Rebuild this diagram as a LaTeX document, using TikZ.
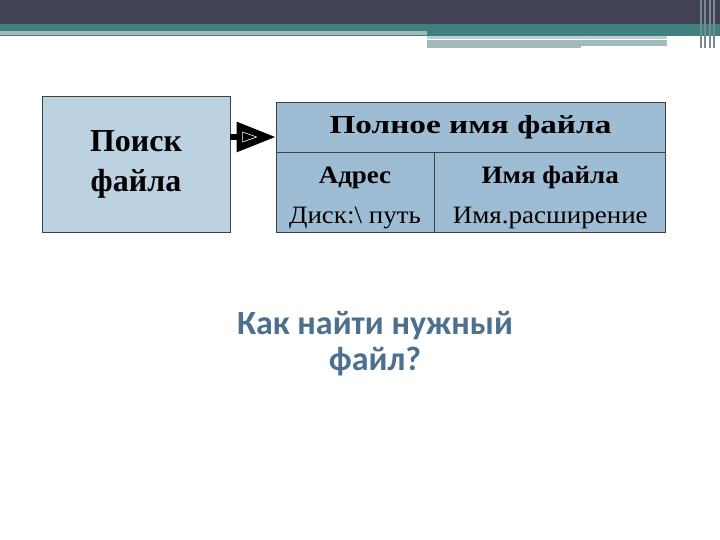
\documentclass[tikz,border=0pt]{standalone}
\usepackage{fontspec}
\setmainfont{Liberation Serif}
\newfontfamily\cellfont[FakeStretch=1.08]{Liberation Serif}
\newfontfamily\headfont[FakeStretch=1.28]{Liberation Serif}
\newfontfamily\qfont{Carlito}
\usetikzlibrary{positioning,arrows.meta,calc}
\definecolor{topdark}{RGB}{65,66,85}
\definecolor{topteal}{RGB}{64,128,128}
\definecolor{toplight}{RGB}{160,186,190}
\definecolor{boxlight}{RGB}{189,210,224}
\definecolor{boxblue}{RGB}{158,189,212}
\definecolor{qblue}{RGB}{76,112,142}
\newcommand{\cellstrut}{\rule{0pt}{26pt}}
\tikzset{box/.style={draw=black!75,line width=0.8pt,inner sep=0pt}}
\tikzset{cell/.style={box,fill=boxblue,align=center,font=\cellfont\fontsize{25}{40}\selectfont}}
\tikzset{conn/.style={line width=6pt,-{Triangle[length=39pt,width=29pt]}}}

\begin{document}
\begin{tikzpicture}[x=1pt,y=-1pt]
  \useasboundingbox[fill=white] (0,0) rectangle (720,540);
  % title bar
  \fill[topdark] (0,0) rectangle (720,24);
  \fill[topteal] (0,24) rectangle (720,36);
  \fill[toplight] (0,31) rectangle (427,35);
  \fill[toplight!70!white] (427,36) rectangle (667,39);
  \fill[toplight] (427,40) rectangle (667,48);
  \fill[white] (581,46) rectangle (707,49);
  \foreach \i in {700,704,709,713}
    \fill[toplight!60!topdark] (\i,0) rectangle (\i+1.5,48);

  % left box
  \node[box,fill=boxlight,minimum width=188pt,minimum height=136pt,
        align=center,font=\bfseries\fontsize{32}{40}\selectfont]
        (search) at (136,164) {Поиск\\файла};

  % table
  \node[cell,minimum width=389pt,minimum height=50pt,font=\headfont\bfseries\fontsize{26}{30}\selectfont]
        (full) at (470.5,127) {Полное имя файла};
  \node[cell,minimum width=158pt,minimum height=80pt,anchor=north west]
        (addr) at (full.south west) {\cellstrut\textbf{Адрес}\\Диск:\textbackslash\ путь};
  \node[cell,minimum width=231pt,minimum height=80pt,anchor=north west]
        (fname) at (addr.north east) {\cellstrut\textbf{Имя файла}\\Имя.расширение};

  % arrow
  \coordinate (tip) at (full.west |- 0,137);
  \draw[conn] (search.east |- tip) -- (tip);
  \draw[white,line width=0.6pt] ($(tip)+(-33,-5)$) -- ++(14,5) -- ++(-14,5) -- cycle;

  % question
  \node[font=\qfont\bfseries\fontsize{34}{36}\selectfont,text=qblue,align=center]
        (quest) at (375,344) {Как найти нужный\\файл?};
\end{tikzpicture}
\end{document}
